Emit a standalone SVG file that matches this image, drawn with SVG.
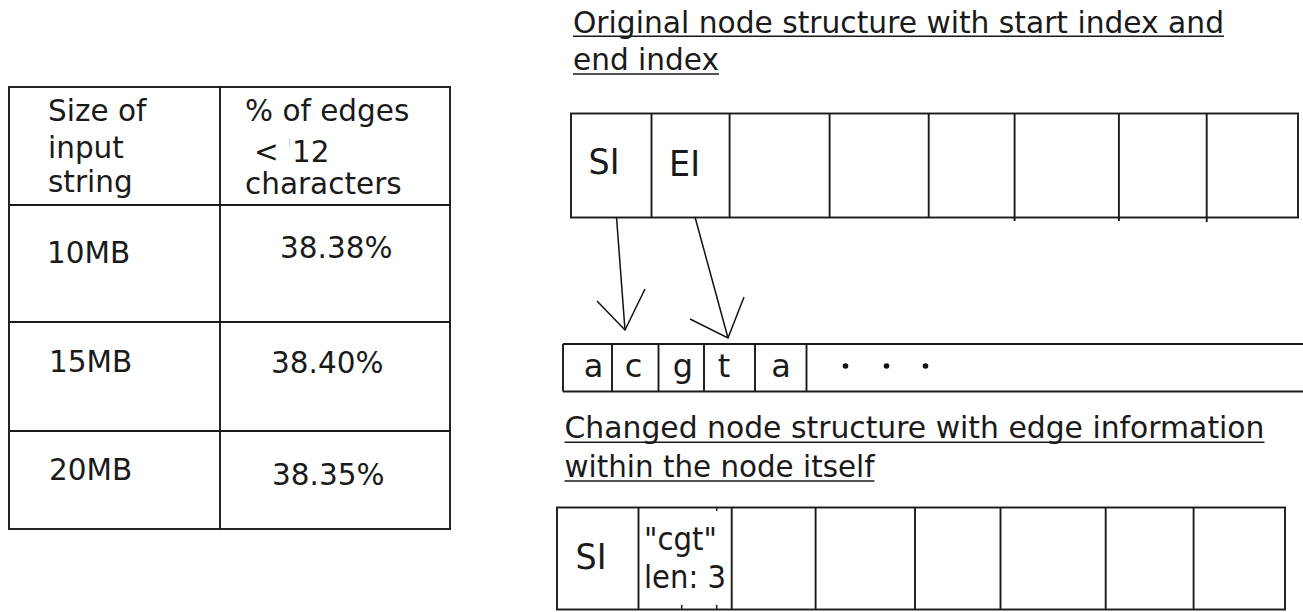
<svg xmlns="http://www.w3.org/2000/svg" width="1303" height="612" viewBox="0 0 1303 612">
  <style>
    .bg { fill: #ffffff; }
    .box { fill: none; stroke: #1a1a1a; stroke-width: 1.9; }
    .ln { stroke: #1a1a1a; stroke-width: 1.9; fill: none; }
    .thin { stroke: #1a1a1a; stroke-width: 1.5; fill: none; }
    .ul { stroke: #1a1a1a; stroke-width: 1.6; }
    .arrow { stroke: #111111; stroke-width: 1.5; fill: none; stroke-linejoin: miter; }
    text { font-family: "DejaVu Sans", "Noto Sans", sans-serif; fill: #1a1a1a; }
    .t { font-size: 29.5px; }
    .big { font-size: 36px; }
    .cell { font-size: 32px; }
    .ch { font-size: 32px; text-anchor: middle; }
    .dot { fill: #111111; }
  </style>

  <rect class="bg" x="0" y="0" width="1303" height="612"/>

  <!-- Results table -->
  <g id="results-table">
    <rect class="box" x="9" y="87" width="441" height="442"/>
    <line class="ln" x1="220" y1="87" x2="220" y2="529"/>
    <line class="ln" x1="9" y1="205" x2="450" y2="205"/>
    <line class="ln" x1="9" y1="322" x2="450" y2="322"/>
    <line class="ln" x1="9" y1="431" x2="450" y2="431"/>

    <text class="t" x="48" y="121">Size of</text>
    <text class="t" x="48" y="158">input</text>
    <text class="t" x="48" y="192">string</text>

    <text class="t" x="245" y="121">% of edges</text>
    <text class="t" x="254" y="162">&lt;<tspan x="292">12</tspan></text>
    <line x1="289.5" y1="138" x2="289.5" y2="147" stroke="#d0d0d0" stroke-width="1.2"/>
    <text class="t" x="245" y="194">characters</text>

    <text class="t" x="47" y="263">10MB</text>
    <text class="t" x="280" y="258">38.38%</text>
    <text class="t" x="49" y="372">15MB</text>
    <text class="t" x="271" y="373">38.40%</text>
    <text class="t" x="49" y="480">20MB</text>
    <text class="t" x="272" y="485">38.35%</text>
  </g>

  <!-- Heading: original node -->
  <g id="heading-original">
    <text class="t" x="573" y="32.5" textLength="651" lengthAdjust="spacingAndGlyphs">Original node structure with start index and</text>
    <line class="ul" x1="573" y1="36.3" x2="1224" y2="36.3"/>
    <text class="t" x="573" y="70" textLength="146" lengthAdjust="spacingAndGlyphs">end index</text>
    <line class="ul" x1="573" y1="74" x2="719" y2="74"/>
  </g>

  <!-- Original node structure -->
  <g id="node-original">
    <rect class="box" x="571" y="113.5" width="727" height="104"/>
    <line class="ln" x1="651.5" y1="113.5" x2="651.5" y2="217.5"/>
    <line class="ln" x1="729.6" y1="113.5" x2="729.6" y2="217.5"/>
    <line class="ln" x1="829.6" y1="113.5" x2="829.6" y2="217.5"/>
    <line class="ln" x1="928.7" y1="113.5" x2="928.7" y2="217.5"/>
    <line class="ln" x1="1014.6" y1="113.5" x2="1014.6" y2="221"/>
    <line class="ln" x1="1118.9" y1="113.5" x2="1118.9" y2="221"/>
    <line class="ln" x1="1206.7" y1="113.5" x2="1206.7" y2="222"/>
    <text class="big" x="588.5" y="174" textLength="31" lengthAdjust="spacingAndGlyphs">SI</text>
    <text class="big" x="669" y="176" textLength="31" lengthAdjust="spacingAndGlyphs">EI</text>
  </g>

  <!-- Character string -->
  <g id="string-array">
    <line class="ln" x1="563" y1="344" x2="1303" y2="344"/>
    <line class="ln" x1="563" y1="391.5" x2="1303" y2="391.5"/>
    <line class="ln" x1="563" y1="344" x2="563" y2="391.5"/>
    <line class="ln" x1="612" y1="344" x2="612" y2="391.5"/>
    <line class="ln" x1="658.5" y1="344" x2="658.5" y2="391.5"/>
    <line class="ln" x1="704" y1="344" x2="704" y2="391.5"/>
    <line class="ln" x1="755" y1="344" x2="755" y2="391.5"/>
    <line class="ln" x1="806.5" y1="344" x2="806.5" y2="391.5"/>
    <text class="ch" x="593.5" y="377">a</text>
    <text class="ch" x="633.5" y="377">c</text>
    <text class="ch" x="683" y="377">g</text>
    <text class="ch" x="724" y="377">t</text>
    <text class="ch" x="781" y="377">a</text>
    <circle class="dot" cx="845.5" cy="366" r="2.8"/>
    <circle class="dot" cx="886.5" cy="366" r="2.8"/>
    <circle class="dot" cx="925.5" cy="366" r="2.8"/>
  </g>

  <!-- Pointers from the index fields into the string -->
  <g id="connectors">
    <path class="arrow" d="M616.5,217 L625,330"/>
    <path class="arrow" d="M597,301 L625,330 L645,289"/>
    <path class="arrow" d="M695,217 L728,338"/>
    <path class="arrow" d="M690,319 L728,338 L744,297"/>
  </g>

  <!-- Heading: changed node -->
  <g id="heading-changed">
    <text class="t" x="564.5" y="438.3" textLength="700" lengthAdjust="spacingAndGlyphs">Changed node structure with edge information</text>
    <line class="ul" x1="564.5" y1="442.3" x2="1264.5" y2="442.3"/>
    <text class="t" x="564.5" y="476.7" textLength="310" lengthAdjust="spacingAndGlyphs">within the node itself</text>
    <line class="ul" x1="564.5" y1="481" x2="874.5" y2="481"/>
  </g>

  <!-- Changed node structure -->
  <g id="node-changed">
    <rect class="box" x="557" y="507.5" width="728" height="102"/>
    <line class="ln" x1="638.5" y1="507.5" x2="638.5" y2="609.5"/>
    <line class="ln" x1="731.7" y1="507.5" x2="731.7" y2="609.5"/>
    <line class="ln" x1="815.6" y1="507.5" x2="815.6" y2="609.5"/>
    <line class="ln" x1="915" y1="507.5" x2="915" y2="609.5"/>
    <line class="ln" x1="1000.5" y1="507.5" x2="1000.5" y2="609.5"/>
    <line class="ln" x1="1105.7" y1="507.5" x2="1105.7" y2="609.5"/>
    <line class="ln" x1="1193.6" y1="507.5" x2="1193.6" y2="609.5"/>
    <line class="thin" x1="716.7" y1="507.5" x2="716.7" y2="511"/>
    <line class="thin" x1="681.7" y1="605" x2="681.7" y2="609.5"/>
    <line class="thin" x1="716.7" y1="605" x2="716.7" y2="609.5"/>
    <text class="big" x="575.5" y="569" font-size="34" textLength="31" lengthAdjust="spacingAndGlyphs">SI</text>
    <text class="cell" x="644" y="550" textLength="73" lengthAdjust="spacingAndGlyphs">"cgt"</text>
    <text class="cell" x="644" y="588" textLength="82" lengthAdjust="spacingAndGlyphs">len: 3</text>
  </g>
</svg>
